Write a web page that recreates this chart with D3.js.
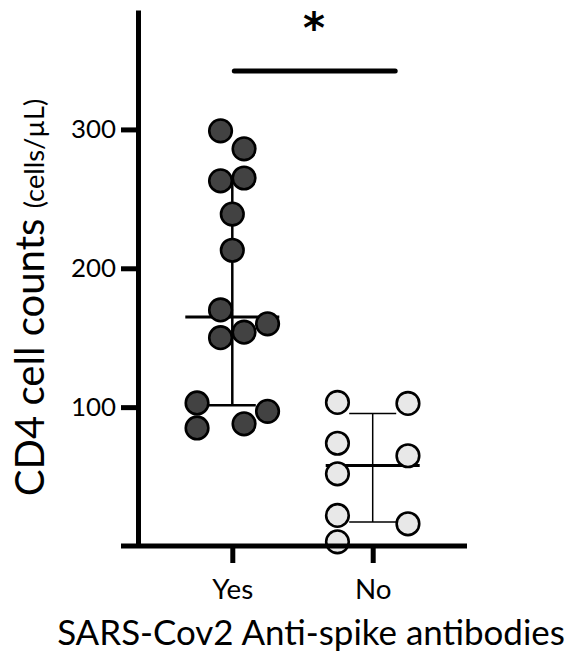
<!DOCTYPE html>
<html><head><meta charset="utf-8">
<script src="https://cdn.jsdelivr.net/npm/d3@7"></script>
<style>body{margin:0;background:#fff}svg{display:block}text{font-family:Lato,"Open Sans",sans-serif;fill:#000}</style>
</head><body>
<svg id="c" width="568" height="658"></svg>
<script>
// ---- data ----
const groups = ["Yes", "No"];
const yesValues = [299, 286, 265, 263, 239, 213, 170, 160, 154, 150, 103, 97, 88, 85];
const yesSlots  = [-0.5, 0.5, 0.5, -0.5, 0, 0, -0.5, 1.5, 0.5, -0.5, -1.5, 1.5, 0.5, -1.5];
const noValues  = [103.4, 102.7, 74, 65, 52, 22, 16, 3];
const noSlots   = [-1.5, 1.5, -1.5, 1.5, -1.5, -1.5, 1.5, -1.5];
const medians = [165, 58];
const q1 = [101.4, 17.3];
const q3 = [263.3, 95.5];
const yTicks = [100, 200, 300];
const yMax = 386;
const sigValue = 342;
const sigLabel = "*";
const xTitle = "SARS-Cov2 Anti-spike antibodies";
const yTitleMain = "CD4 cell counts";
const yTitleUnit = "(cells/\u00B5L)";

// ---- layout ----
const svg = d3.select("#c");
const axisX0 = 138, axisY0 = 546;
const y = d3.scaleLinear().domain([0, yMax]).range([axisY0, 10]);
const x = d3.scalePoint().domain(groups).range([232.3, 372.7]);
const slot = d3.scaleLinear().domain([0, 1]).range([0, 23.5]);
const fills = {Yes: "#424242", No: "#e8e8e8"};
const barW = {Yes: 2.5, No: 1.5};
const points = [
  ...yesValues.map((v, i) => ({g: "Yes", v, s: yesSlots[i]})),
  ...noValues.map((v, i) => ({g: "No", v, s: noSlots[i]}))
];

function fit(sel, target, base) {
  sel.style("font-size", base + "px");
  const w = sel.node().getComputedTextLength();
  const fs = base * target / w;
  sel.style("font-size", fs + "px");
  return fs;
}

// error bars (median + IQR)
const eb = svg.append("g");
groups.forEach((g, i) => {
  const cx = x(g);
  eb.append("line").attr("x1", cx).attr("x2", cx).attr("y1", y(q1[i])).attr("y2", y(q3[i]))
    .attr("stroke", "#000").attr("stroke-width", barW[g]);
  [q1[i], q3[i]].forEach(q => eb.append("line").attr("x1", cx - 23.5).attr("x2", cx + 23.5)
    .attr("y1", y(q)).attr("y2", y(q)).attr("stroke", "#000").attr("stroke-width", barW[g]));
  eb.append("line").attr("x1", cx - 47).attr("x2", cx + 47).attr("y1", y(medians[i])).attr("y2", y(medians[i]))
    .attr("stroke", "#000").attr("stroke-width", 3);
});

// dots
svg.append("g").selectAll("circle").data(points).join("circle")
  .attr("cx", d => x(d.g) + slot(d.s)).attr("cy", d => y(d.v)).attr("r", 11.3)
  .attr("fill", d => fills[d.g]).attr("stroke", "#000").attr("stroke-width", 2.6);

// y axis
const ya = svg.append("g").attr("transform", `translate(${axisX0},0)`)
  .call(d3.axisLeft(y).tickValues(yTicks).tickSize(17).tickSizeOuter(0).tickPadding(5));
ya.select(".domain").attr("stroke", "#000").attr("stroke-width", 5);
ya.selectAll(".tick line").attr("stroke", "#000").attr("stroke-width", 5);
const yl = ya.selectAll(".tick text").attr("fill", "#000").attr("font-family", null);
const tfs = fit(d3.select(yl.nodes()[2]), 45, 26);
yl.style("font-size", tfs + "px");

// x axis
const xa = svg.append("g").attr("transform", `translate(0,${axisY0})`)
  .call(d3.axisBottom(x).tickSize(17).tickSizeOuter(0).tickPadding(14));
xa.select(".domain").remove();
xa.append("line").attr("x1", 121).attr("x2", 467).attr("stroke", "#000").attr("stroke-width", 5);
xa.selectAll(".tick line").attr("stroke", "#000").attr("stroke-width", 5);
const xl = xa.selectAll(".tick text").attr("fill", "#000").attr("font-family", null).attr("dy", null)
  .attr("y", 53);
const xfs = fit(d3.select(xl.nodes()[0]), 41, 26);
xl.style("font-size", xfs + "px");

// x title
const xt = svg.append("text").attr("x", 311).attr("y", 645).attr("text-anchor", "middle").text(xTitle);
fit(xt, 508, 30);

// y title
const yt = svg.append("text").attr("transform", "translate(44,297.5) rotate(-90)").attr("text-anchor", "middle");
const t1 = yt.append("tspan").text(yTitleMain + " ");
const t2 = yt.append("tspan").text(yTitleUnit);
const mfs = fit(t1, 288, 30);
t2.style("font-size", (mfs * 0.68) + "px");

// significance
svg.append("line").attr("x1", x("Yes") + 2).attr("x2", x("No") + 22.5)
  .attr("y1", y(sigValue)).attr("y2", y(sigValue))
  .attr("stroke", "#000").attr("stroke-width", 5).attr("stroke-linecap", "round");
svg.append("text").attr("x", 314).attr("y", 43).attr("text-anchor", "middle")
  .style("font-family", "'DejaVu Sans', sans-serif")
  .style("font-size", "42px").style("font-weight", "bold").text(sigLabel);
</script>
</body></html>
